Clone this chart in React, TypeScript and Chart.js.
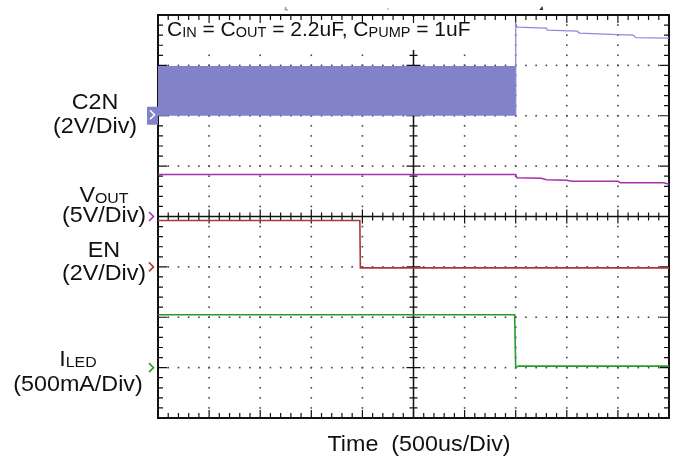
import React, { useEffect, useRef } from "react";
import { Chart, registerables } from "chart.js";

Chart.register(...registerables);

// ---- Data (time in divisions, 500us/div; amplitude in screen divisions) ----
const xDivisions = 10;
const yDivisions = 8;

const c2nBandX = [0, 7.0];
const c2nBandTop = [6.97, 6.97];
const c2nBandBase = 6.0;

const c2nAfterX = [7.0, 7.0, 7.03, 7.6, 7.62, 8.2, 8.25, 9.0, 9.3, 9.35, 10];
const c2nAfterY = [6.0, 7.82, 7.76, 7.74, 7.7, 7.68, 7.64, 7.61, 7.6, 7.55, 7.54];

const voutX = [0, 7.0, 7.02, 7.5, 7.6, 8.0, 8.1, 9.0, 9.05, 9.9, 10];
const voutY = [4.835, 4.835, 4.77, 4.76, 4.73, 4.72, 4.7, 4.7, 4.67, 4.67, 4.64];

const enX = [0, 3.95, 3.96, 10];
const enY = [3.92, 3.92, 2.98, 2.98];

const iledX = [0, 6.98, 7.0, 7.05, 10];
const iledY = [2.05, 2.05, 1.0, 1.03, 1.03];

// ground reference marker levels (divisions)
const c2nGround = 6.0;
const voutGround = 4.0;
const enGround = 3.0;
const iledGround = 1.0;

const titleParts: [string, boolean][] = [
  ["C", false], ["IN", true], [" = C", false], ["OUT", true],
  [" = 2.2uF, C", false], ["PUMP", true], [" = 1uF", false],
];

const COLORS = {
  c2n: "#8282c8",
  c2nLine: "#8c8cdc",
  vout: "#a830a8",
  en: "#a83838",
  iled: "#2a9a2a",
};

const FONT = '"Liberation Sans", Arial, sans-serif';

function pts(xs: number[], ys: number[]) {
  return xs.map((x, i) => ({ x, y: ys[i] }));
}

function measureRich(ctx: CanvasRenderingContext2D, parts: [string, boolean][], main: number, sub: number, sx: number) {
  let total = 0;
  ctx.save();
  parts.forEach(([t, s]) => {
    ctx.font = `${s ? sub : main}px ${FONT}`;
    total += ctx.measureText(t).width * sx;
  });
  ctx.restore();
  return total;
}

function drawRich(
  ctx: CanvasRenderingContext2D,
  parts: [string, boolean][],
  cx: number,
  baseline: number,
  main: number,
  sub: number,
  align: "center" | "left" = "center",
  sx = 1.06
) {
  ctx.save();
  const total = measureRich(ctx, parts, main, sub, sx);
  let x = align === "center" ? cx - total / 2 : cx;
  ctx.fillStyle = "#111";
  ctx.textBaseline = "alphabetic";
  ctx.textAlign = "left";
  parts.forEach(([t, s]) => {
    ctx.save();
    ctx.font = `${s ? sub : main}px ${FONT}`;
    const w = ctx.measureText(t).width * sx;
    ctx.translate(x, baseline + (s ? 1 : 0));
    ctx.scale(sx, 1);
    ctx.fillText(t, 0, 0);
    ctx.restore();
    x += w;
  });
  ctx.restore();
}

const scopePlugin = {
  id: "scope",
  beforeDatasetsDraw(chart: any) {
    const { ctx, chartArea } = chart;
    const xs = chart.scales.x;
    const ys = chart.scales.y;
    const { left, right, top, bottom } = chartArea;
    ctx.save();
    ctx.fillStyle = "#444";
    for (let k = 1; k < xDivisions; k++) {
      if (k === xDivisions / 2) continue;
      const px = xs.getPixelForValue(k);
      for (let j = 1; j < yDivisions * 5; j++) {
        const py = ys.getPixelForValue(j * 0.2);
        ctx.fillRect(px - 0.8, py - 0.8, 1.6, 1.6);
      }
    }
    for (let k = 1; k < yDivisions; k++) {
      if (k === yDivisions / 2) continue;
      const py = ys.getPixelForValue(k);
      for (let j = 1; j < xDivisions * 5; j++) {
        const px = xs.getPixelForValue(j * 0.2);
        ctx.fillRect(px - 0.8, py - 0.8, 1.6, 1.6);
      }
    }
    ctx.strokeStyle = "#111";
    ctx.lineWidth = 1.5;
    // center axes
    const cx = xs.getPixelForValue(xDivisions / 2);
    const cy = ys.getPixelForValue(yDivisions / 2);
    ctx.beginPath();
    ctx.moveTo(left, cy);
    ctx.lineTo(right, cy);
    ctx.moveTo(cx, top);
    ctx.lineTo(cx, bottom);
    ctx.stroke();
    ctx.lineWidth = 1.2;
    ctx.beginPath();
    for (let j = 1; j < xDivisions * 5; j++) {
      const px = xs.getPixelForValue(j * 0.2);
      const major = j % 5 === 0;
      const c = major ? 7 : 4;
      ctx.moveTo(px, cy - c);
      ctx.lineTo(px, cy + c);
    }
    for (let j = 1; j < yDivisions * 5; j++) {
      const py = ys.getPixelForValue(j * 0.2);
      const major = j % 5 === 0;
      const c = major ? 7 : 4;
      ctx.moveTo(cx - c, py);
      ctx.lineTo(cx + c, py);
    }
    ctx.stroke();

    // white box behind the title
    const tw = measureRich(ctx, titleParts, 21, 14.5, 1.0);
    ctx.fillStyle = "#fff";
    ctx.fillRect(left + 6, top + 2, tw + 7, 33);

    // border ticks
    ctx.strokeStyle = "#111";
    ctx.lineWidth = 1.2;
    ctx.beginPath();
    for (let j = 1; j < xDivisions * 5; j++) {
      const px = xs.getPixelForValue(j * 0.2);
      const major = j % 5 === 0;
      const m = major ? 8 : 5;
      ctx.moveTo(px, top);
      ctx.lineTo(px, top + m);
      ctx.moveTo(px, bottom);
      ctx.lineTo(px, bottom - m);
    }
    for (let j = 1; j < yDivisions * 5; j++) {
      const py = ys.getPixelForValue(j * 0.2);
      const major = j % 5 === 0;
      const m = major ? 9 : 5;
      ctx.moveTo(left, py);
      ctx.lineTo(left + m, py);
      ctx.moveTo(right, py);
      ctx.lineTo(right - m, py);
    }
    ctx.stroke();
    // frame
    ctx.lineWidth = 2;
    ctx.strokeRect(left, top, right - left, bottom - top);
    ctx.restore();
  },
  afterDraw(chart: any) {
    const { ctx, chartArea } = chart;
    const xs = chart.scales.x;
    const ys = chart.scales.y;
    const { left } = chartArea;
    ctx.save();
    // ground markers
    const chevron = (y: number, color: string, x0: number) => {
      ctx.strokeStyle = color;
      ctx.lineWidth = 1.6;
      ctx.beginPath();
      ctx.moveTo(x0, y - 4.5);
      ctx.lineTo(x0 + 4.5, y);
      ctx.lineTo(x0, y + 4.5);
      ctx.stroke();
    };
    const gy = ys.getPixelForValue(c2nGround);
    ctx.fillStyle = COLORS.c2n;
    ctx.fillRect(left - 11, gy - 9, 11, 18);
    chevron(gy - 1, "#fff", left - 8);
    chevron(ys.getPixelForValue(voutGround), COLORS.vout, left - 9);
    chevron(ys.getPixelForValue(enGround), COLORS.en, left - 9);
    chevron(ys.getPixelForValue(iledGround), COLORS.iled, left - 9);

    // tiny trigger marks above the grid
    ctx.fillStyle = "#999";
    ctx.fillRect(xs.getPixelForValue(2.5) - 1, 7, 1.5, 3);
    ctx.fillRect(xs.getPixelForValue(2.5) - 1, 9, 3, 1.5);
    ctx.fillStyle = "#333";
    ctx.beginPath();
    const tx = xs.getPixelForValue(7.5);
    ctx.moveTo(tx - 2, 10);
    ctx.lineTo(tx + 2, 10);
    ctx.lineTo(tx + 1, 6);
    ctx.closePath();
    ctx.fill();
    ctx.fillStyle = "#aaa";
    ctx.fillRect(xs.getPixelForValue(4.5) - 0.5, 8, 1.2, 2);
    ctx.restore();

    // title inside grid
    drawRich(ctx, titleParts, left + 9, 36, 21, 14.5, "left", 1.0);

    // channel labels
    drawRich(ctx, [["C2N", false]], 95, 108.5, 22, 15);
    drawRich(ctx, [["(2V/Div)", false]], 95, 133, 22, 15);
    drawRich(ctx, [["V", false], ["OUT", true]], 104, 202, 22, 15);
    drawRich(ctx, [["(5V/Div)", false]], 104, 222, 22, 15);
    drawRich(ctx, [["EN", false]], 104, 257, 22, 15);
    drawRich(ctx, [["(2V/Div)", false]], 104, 280, 22, 15);
    drawRich(ctx, [["I", false], ["LED", true]], 78, 366, 22, 15);
    drawRich(ctx, [["(500mA/Div)", false]], 78, 391, 22, 15);
    drawRich(ctx, [["Time  (500us/Div)", false]], 419, 450.5, 22, 15);
  },
};

export default function App() {
  const ref = useRef<HTMLCanvasElement | null>(null);
  useEffect(() => {
    if (!ref.current) return;
    const line = (data: any, color: string, extra: any = {}) => ({
      data,
      borderColor: color,
      backgroundColor: color,
      borderWidth: 1.6,
      pointRadius: 0,
      tension: 0,
      fill: false,
      ...extra,
    });
    const chart = new Chart(ref.current, {
      type: "line",
      data: {
        datasets: [
          line(pts(c2nBandX, c2nBandTop), COLORS.c2n, {
            fill: { value: c2nBandBase },
            backgroundColor: COLORS.c2n,
          }),
          line(pts(c2nAfterX, c2nAfterY), COLORS.c2nLine, { borderWidth: 1.3 }),
          line(pts(voutX, voutY), COLORS.vout),
          line(pts(enX, enY), COLORS.en),
          line(pts(iledX, iledY), COLORS.iled),
        ],
      },
      options: {
        responsive: false,
        animation: false,
        layout: { padding: { left: 158, right: 16, top: 15, bottom: 40 } },
        plugins: { legend: { display: false }, tooltip: { enabled: false } },
        scales: {
          x: { type: "linear", min: 0, max: xDivisions, display: false },
          y: { type: "linear", min: 0, max: yDivisions, display: false },
        },
      },
      plugins: [scopePlugin],
    } as any);
    return () => chart.destroy();
  }, []);
  return (
    <div style={{ position: "fixed", left: 0, top: 0, width: 685, height: 458, background: "#fff" }}>
      <canvas ref={ref} width={685} height={458} style={{ width: 685, height: 458 }} />
    </div>
  );
}
